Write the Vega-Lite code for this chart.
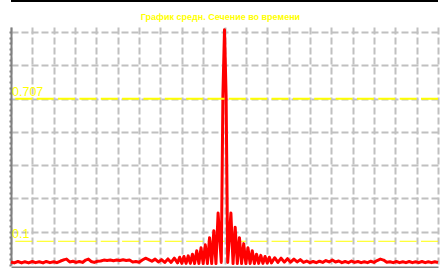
{
  "$schema": "https://vega.github.io/schema/vega-lite/v6.json",
  "width": 427,
  "height": 238,
  "autosize": {"type": "none"},
  "padding": {"left": 11, "top": 27, "right": 5, "bottom": 3},
  "background": "white",
  "config": {"view": {"stroke": null}},
  "title": {
    "text": "График средн. Сечение во времени",
    "color": "#ffff00",
    "font": "Liberation Sans",
    "fontSize": 9,
    "fontWeight": "bold",
    "anchor": "middle",
    "frame": "group",
    "baseline": "alphabetic",
    "offset": -29,
    "dx": -4
  },
  "datasets": {
    "signal": [
      {"t": 0, "v": 0.012}, {"t": 3, "v": 0.008}, {"t": 6.5, "v": 0.014}, {"t": 10, "v": 0.008},
      {"t": 13, "v": 0.013}, {"t": 16.5, "v": 0.008}, {"t": 20, "v": 0.014}, {"t": 23, "v": 0.009},
      {"t": 26.5, "v": 0.013}, {"t": 30, "v": 0.008}, {"t": 33, "v": 0.014}, {"t": 36.5, "v": 0.009},
      {"t": 40, "v": 0.013}, {"t": 43, "v": 0.009}, {"t": 46.5, "v": 0.016}, {"t": 50, "v": 0.022},
      {"t": 52, "v": 0.024}, {"t": 55, "v": 0.012}, {"t": 58, "v": 0.015}, {"t": 61, "v": 0.01},
      {"t": 64, "v": 0.014}, {"t": 67, "v": 0.01}, {"t": 70, "v": 0.02}, {"t": 72.5, "v": 0.024},
      {"t": 75, "v": 0.014}, {"t": 78, "v": 0.01}, {"t": 81, "v": 0.015}, {"t": 84, "v": 0.016},
      {"t": 87, "v": 0.02}, {"t": 90, "v": 0.018}, {"t": 93, "v": 0.02}, {"t": 96, "v": 0.017},
      {"t": 99, "v": 0.02}, {"t": 102, "v": 0.018}, {"t": 105, "v": 0.021}, {"t": 108, "v": 0.018},
      {"t": 111, "v": 0.02}, {"t": 114, "v": 0.012}, {"t": 117, "v": 0.014}, {"t": 120, "v": 0.011},
      {"t": 123, "v": 0.02}, {"t": 126, "v": 0.028}, {"t": 129, "v": 0.022}, {"t": 132, "v": 0.015},
      {"t": 135, "v": 0.024}, {"t": 138, "v": 0.012}, {"t": 141, "v": 0.022}, {"t": 144, "v": 0.01},
      {"t": 147, "v": 0.025}, {"t": 150, "v": 0.01}, {"t": 153, "v": 0.028}, {"t": 156, "v": 0.008},
      {"t": 158, "v": 0.032}, {"t": 160, "v": 0.006}, {"t": 162, "v": 0.035}, {"t": 164, "v": 0.006},
      {"t": 166, "v": 0.038}, {"t": 168, "v": 0.006}, {"t": 170, "v": 0.045}, {"t": 172, "v": 0.005},
      {"t": 174, "v": 0.06}, {"t": 176, "v": 0.005}, {"t": 178, "v": 0.072}, {"t": 180, "v": 0.005},
      {"t": 182, "v": 0.085}, {"t": 184, "v": 0.005}, {"t": 186, "v": 0.115}, {"t": 188, "v": 0.005},
      {"t": 190, "v": 0.145}, {"t": 192, "v": 0.005}, {"t": 194, "v": 0.22}, {"t": 197, "v": 0.01},
      {"t": 198.5, "v": 0.72}, {"t": 200, "v": 1.0}, {"t": 201.5, "v": 0.72}, {"t": 203, "v": 0.01},
      {"t": 206, "v": 0.22}, {"t": 208, "v": 0.005}, {"t": 210, "v": 0.16}, {"t": 212, "v": 0.005},
      {"t": 214, "v": 0.115}, {"t": 216, "v": 0.005}, {"t": 218, "v": 0.09}, {"t": 220, "v": 0.005},
      {"t": 222, "v": 0.072}, {"t": 224, "v": 0.005}, {"t": 226, "v": 0.06}, {"t": 228, "v": 0.005},
      {"t": 230, "v": 0.045}, {"t": 232, "v": 0.006}, {"t": 234, "v": 0.04}, {"t": 236, "v": 0.006},
      {"t": 238, "v": 0.035}, {"t": 240, "v": 0.007}, {"t": 242, "v": 0.032}, {"t": 244, "v": 0.008},
      {"t": 247, "v": 0.03}, {"t": 250, "v": 0.01}, {"t": 253, "v": 0.028}, {"t": 256, "v": 0.011},
      {"t": 259, "v": 0.026}, {"t": 262, "v": 0.011}, {"t": 265, "v": 0.024}, {"t": 268, "v": 0.012},
      {"t": 271, "v": 0.022}, {"t": 274, "v": 0.01}, {"t": 277, "v": 0.016}, {"t": 280, "v": 0.009},
      {"t": 283, "v": 0.014}, {"t": 286, "v": 0.009}, {"t": 289, "v": 0.015}, {"t": 292, "v": 0.01},
      {"t": 295, "v": 0.018}, {"t": 298, "v": 0.012}, {"t": 301, "v": 0.02}, {"t": 304, "v": 0.012},
      {"t": 307, "v": 0.016}, {"t": 310, "v": 0.009}, {"t": 313, "v": 0.014}, {"t": 316, "v": 0.009},
      {"t": 319, "v": 0.016}, {"t": 322, "v": 0.01}, {"t": 325, "v": 0.014}, {"t": 328, "v": 0.009},
      {"t": 331, "v": 0.013}, {"t": 334, "v": 0.009}, {"t": 337, "v": 0.015}, {"t": 340, "v": 0.01},
      {"t": 343, "v": 0.018}, {"t": 346, "v": 0.024}, {"t": 349, "v": 0.02}, {"t": 352, "v": 0.011},
      {"t": 355, "v": 0.013}, {"t": 358, "v": 0.009}, {"t": 361, "v": 0.014}, {"t": 364, "v": 0.009},
      {"t": 367, "v": 0.013}, {"t": 370, "v": 0.009}, {"t": 373, "v": 0.014}, {"t": 376, "v": 0.009},
      {"t": 379, "v": 0.013}, {"t": 382, "v": 0.009}, {"t": 385, "v": 0.014}, {"t": 388, "v": 0.009},
      {"t": 391, "v": 0.013}, {"t": 394, "v": 0.009}, {"t": 397, "v": 0.013}, {"t": 400, "v": 0.01}
    ],
    "levels": [
      {"level": 0.707, "label": "0.707"},
      {"level": 0.1, "label": "0.1"}
    ]
  },
  "layer": [
    {
      "data": {"name": "signal"},
      "mark": {"type": "line", "color": "#ff0000", "strokeWidth": 0, "opacity": 0},
      "encoding": {
        "x": {
          "field": "t", "type": "quantitative",
          "scale": {"domain": [0, 400], "nice": false, "zero": false},
          "axis": {
            "orient": "bottom", "values": [0,20,40,60,80,100,120,140,160,180,200,220,240,260,280,300,320,340,360,380,400],
            "tickCount": 100,
            "labels": false, "ticks": false, "title": null, "offset": 2,
            "domainColor": "#808080", "domainWidth": 2,
            "grid": true, "gridColor": "#c0c0c0", "gridWidth": 2, "gridDash": [7, 3]
          }
        },
        "y": {
          "field": "v", "type": "quantitative",
          "scale": {"domain": [-0.001, 1.012], "nice": false, "zero": false},
          "axis": {
            "values": [0, 0.02357, 0.04714, 0.07071, 0.09428, 0.11785, 0.14142, 0.16499, 0.18856, 0.21213, 0.2357, 0.25927, 0.28284, 0.30641, 0.32998, 0.35355, 0.37712, 0.40069, 0.42426, 0.44783, 0.4714, 0.49497, 0.51854, 0.54211, 0.56569, 0.58926, 0.61283, 0.6364, 0.65997, 0.68354, 0.70711, 0.73068, 0.75425, 0.77782, 0.80139, 0.82496, 0.84853, 0.8721, 0.89567, 0.91924, 0.94281, 0.96638, 0.98995],
            "tickCount": 100,
            "labels": false, "title": null,
            "domainColor": "#808080", "domainWidth": 2,
            "ticks": true, "tickSize": 2, "tickWidth": 2, "tickColor": "#808080",
            "grid": true, "gridColor": "#c0c0c0", "gridWidth": 2, "gridDash": [7, 3],
            "gridOpacity": {"condition": {"test": "abs(datum.value/0.141421 - round(datum.value/0.141421)) < 0.01 && datum.value > 0.01", "value": 1}, "value": 0}
          }
        }
      }
    },
    {
      "data": {"values": [{"edge": 1.1227}]},
      "mark": {"type": "rule", "color": "#000000", "strokeWidth": 2, "clip": false},
      "encoding": {
        "y": {"field": "edge", "type": "quantitative"}
      }
    },
    {
      "data": {"name": "levels"},
      "transform": [{"filter": "datum.level < 0.5"}],
      "mark": {"type": "rule", "color": "#ffff00", "strokeWidth": 1, "strokeDash": [17, 4.35]},
      "encoding": {
        "y": {"field": "level", "type": "quantitative"}
      }
    },
    {
      "data": {"name": "signal"},
      "mark": {"type": "line", "color": "#ff0000", "strokeWidth": 3, "strokeJoin": "round"},
      "encoding": {
        "x": {"field": "t", "type": "quantitative"},
        "y": {"field": "v", "type": "quantitative"}
      }
    },
    {
      "data": {"name": "levels"},
      "transform": [{"filter": "datum.level > 0.5"}],
      "mark": {"type": "rule", "color": "#ffff00", "strokeWidth": 2, "strokeDash": [17, 4.35]},
      "encoding": {
        "y": {"field": "level", "type": "quantitative"}
      }
    },
    {
      "data": {"name": "levels"},
      "mark": {"type": "text", "color": "#ffff00", "font": "Liberation Sans", "fontSize": 12.5, "align": "left", "baseline": "alphabetic", "dx": 1, "dy": -3},
      "encoding": {
        "x": {"datum": 0, "type": "quantitative"},
        "y": {"field": "level", "type": "quantitative"},
        "text": {"field": "label"}
      }
    }
  ]
}
